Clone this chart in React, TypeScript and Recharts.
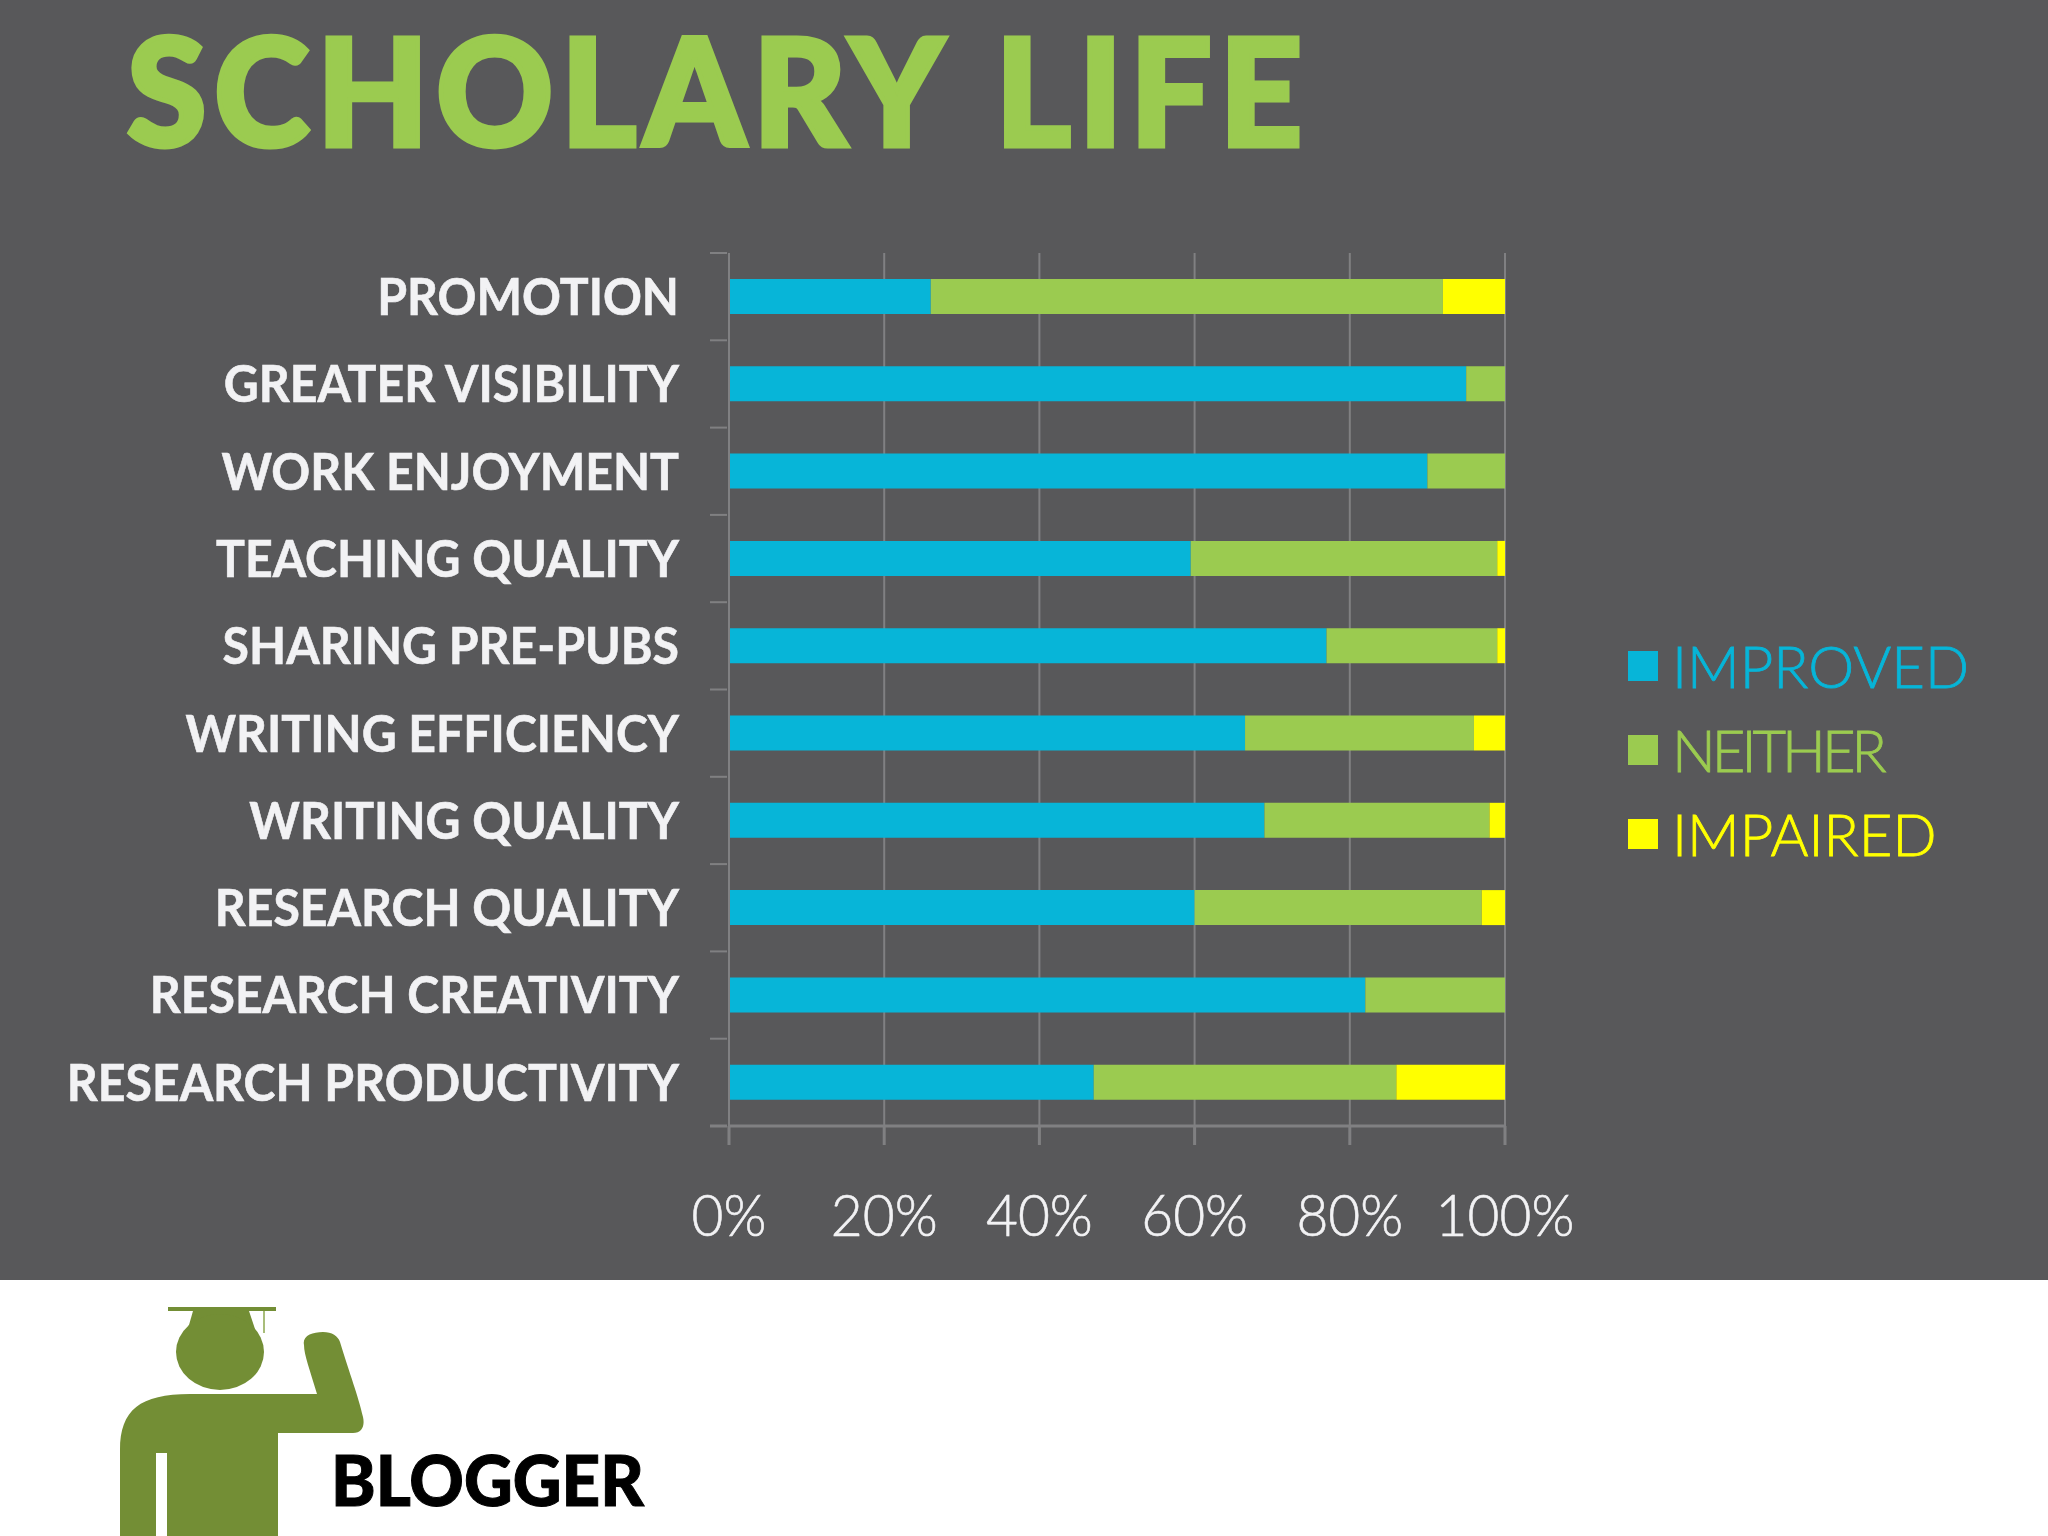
import React from 'react';
import { BarChart, Bar, XAxis, YAxis, CartesianGrid, Legend } from "recharts"

const categories = [
  "PROMOTION",
  "GREATER VISIBILITY",
  "WORK ENJOYMENT",
  "TEACHING QUALITY",
  "SHARING PRE-PUBS",
  "WRITING EFFICIENCY",
  "WRITING QUALITY",
  "RESEARCH QUALITY",
  "RESEARCH CREATIVITY",
  "RESEARCH PRODUCTIVITY",
]
const improved = [26, 95, 90, 59.5, 77, 66.5, 69, 60, 82, 47]
const neither = [66, 5, 10, 39.5, 22, 29.5, 29, 37, 18, 39]
const impaired = [8, 0, 0, 1, 1, 4, 2, 3, 0, 14]
const percentTicks = [0, 20, 40, 60, 80, 100]

const data = categories.map((name, i) => ({
  name,
  improved: improved[i],
  neither: neither[i],
  impaired: impaired[i],
}))

const BLUE = "#07b5d8"
const GREEN = "#9bcb50"
const YELLOW = "#ffff00"
const LINE = "#808082"
const FONT = "Lato, sans-serif"
const PLOT_HEIGHT = 873
const BAND = PLOT_HEIGHT / categories.length

// tick marks sit between the bars in the original, so they are drawn with the label
function CategoryTick({ x, y, payload }: any) {
  const last = payload.value === categories[categories.length - 1]
  return (
    <g>
      <line x1={x - 17} x2={x} y1={y - BAND / 2} y2={y - BAND / 2} stroke={LINE} strokeWidth={2} />
      {last && <line x1={x - 17} x2={x} y1={y + BAND / 2} y2={y + BAND / 2} stroke={LINE} strokeWidth={3} />}
      <text
        transform={`translate(${x - 48},${y}) scale(0.945,1)`}
        dy="0.36em"
        textAnchor="end"
        fill="#f2f2f4"
        stroke="#f2f2f4"
        strokeWidth={0.6}
        fontFamily={FONT}
        fontWeight={700}
        fontSize={51}
      >
        {payload.value}
      </text>
    </g>
  )
}

function PercentTick({ x, y, payload }: any) {
  return (
    <text
      transform={`translate(${x},${y}) scale(0.95,1)`}
      dy={89}
      textAnchor="middle"
      fill="#f2f2f4"
      stroke="#f2f2f4"
      strokeWidth={0.6}
      fontFamily={FONT}
      fontWeight={300}
      fontSize={58}
    >
      {payload.value}%
    </text>
  )
}

// NEITHER runs narrower than the other two in the original
function LegendRows({ payload }: any) {
  return (
    <div>
      {(payload || []).map((entry: any) => (
        <div key={entry.value} style={{ display: "flex", alignItems: "center", height: 84 }}>
          <span style={{ width: 30, height: 30, background: entry.color, marginRight: 14, marginTop: 2 }} />
          <span
            style={{
              color: entry.color,
              fontFamily: FONT,
              fontWeight: 300,
              fontSize: 58,
              whiteSpace: "nowrap",
              letterSpacing: entry.value === "NEITHER" ? -4 : 0,
              WebkitTextStroke: `0.8px ${entry.color}`,
            }}
          >
            {entry.value}
          </span>
        </div>
      ))}
    </div>
  )
}

function Decor() {
  return (
    <svg width={2048} height={1536} style={{ position: "absolute", left: 0, top: 0 }}>
      <text
        x={127}
        y={146}
        fill={GREEN}
        stroke={GREEN}
        strokeWidth={5}
        fontFamily={FONT}
        fontWeight={900}
        fontSize={148}
        textLength={1183}
        lengthAdjust="spacingAndGlyphs"
        style={{ letterSpacing: 8, wordSpacing: 8 }}
      >
        SCHOLARY LIFE
      </text>
      <g fill="#738e35">
        <rect x={168} y={1307} width={108} height={4} />
        <rect x={263} y={1311} width={2} height={22} fill="#a9bd7a" />
        <path d="M193 1311 L249 1311 L256 1332 L187 1332 Z" />
        <ellipse cx={220} cy={1352} rx={44} ry={38} />
        <path d="M120 1536 L120 1450 C120 1410 140 1394 190 1394 L317 1394 C310 1370 304 1355 304 1345 C302 1336 312 1332 323 1332 C332 1332 338 1336 340 1342 C350 1375 358 1395 363 1417 C365 1426 362 1433 353 1433 L278 1433 L278 1536 L167 1536 L167 1453 L156 1453 L156 1536 Z" />
      </g>
      <text
        x={331}
        y={1506}
        fill="#000000"
        stroke="#000000"
        strokeWidth={1}
        fontFamily={FONT}
        fontWeight={900}
        fontSize={70}
        textLength={313}
        lengthAdjust="spacingAndGlyphs"
      >
        BLOGGER
      </text>
    </svg>
  )
}

export default function App() {
  return (
    <div style={{ position: "absolute", left: 0, top: 0, width: 2048, height: 1536, background: "#ffffff", overflow: "hidden" }}>
      <div style={{ position: "absolute", left: 0, top: 0, width: 2048, height: 1280, background: "#58585a" }} />
      <Decor />
      <div style={{ position: "absolute", left: 0, top: 0 }}>
        <BarChart
          width={2048}
          height={1536}
          data={data}
          layout="vertical"
          barSize={35}
          margin={{ top: 253, right: 543, left: 29, bottom: 409 }}
        >
          <CartesianGrid horizontal={false} stroke={LINE} strokeWidth={2} />
          <XAxis
            type="number"
            domain={[0, 100]}
            ticks={percentTicks}
            interval={0}
            height={1}
            tick={<PercentTick />}
            tickSize={19}
            stroke={LINE}
            strokeWidth={3}
          />
          <YAxis
            type="category"
            dataKey="name"
            width={700}
            interval={0}
            stroke={LINE}
            strokeWidth={2}
            tickLine={false}
            tickSize={0}
            tick={<CategoryTick />}
          />
          <Legend
            layout="vertical"
            align="center"
            verticalAlign="middle"
            itemSorter={null}
            content={<LegendRows />}
            wrapperStyle={{ left: 1628, top: 623, width: 400 }}
          />
          <Bar dataKey="improved" name="IMPROVED" stackId="a" fill={BLUE} isAnimationActive={false} />
          <Bar dataKey="neither" name="NEITHER" stackId="a" fill={GREEN} isAnimationActive={false} />
          <Bar dataKey="impaired" name="IMPAIRED" stackId="a" fill={YELLOW} isAnimationActive={false} />
        </BarChart>
      </div>
    </div>
  )
}
